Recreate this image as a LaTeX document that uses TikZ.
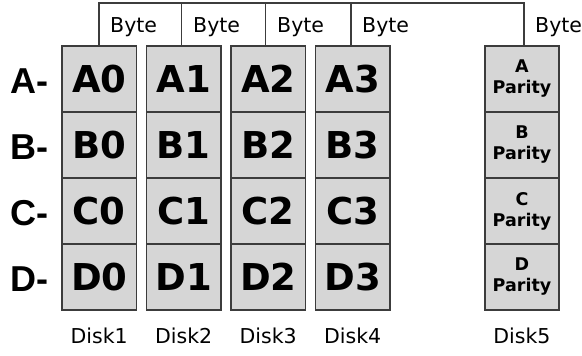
\documentclass[tikz,border=0pt]{standalone}
\usepackage{fontspec}
\setmainfont{DejaVu Sans}
\newfontfamily\rowfont{Liberation Sans}
\definecolor{edgec}{RGB}{60,60,60}
\definecolor{cellc}{RGB}{214,214,214}
\begin{document}
\begin{tikzpicture}[x=1pt,y=1pt,
  cell/.style={draw=edgec, fill=cellc, line width=1.6pt, minimum width=74.5pt, minimum height=66pt, inner sep=0pt, font=\fontsize{37}{40}\selectfont\bfseries},
  pcell/.style={cell, minimum width=74pt, font=\fontsize{17.5}{21}\selectfont\bfseries, align=center},
  lbl/.style={inner sep=0pt, font=\fontsize{20.5}{24}\selectfont},
  rowlbl/.style={inner sep=0pt, anchor=base west, font=\rowfont\fontsize{36}{40}\selectfont\bfseries},
  link/.style={draw=edgec, line width=1.6pt}]
\useasboundingbox (0,0) rectangle (582,356);
\foreach \r [count=\i from 0] in {A,B,C,D}{
  \node[rowlbl] (lab\r) at (10, 262-66*\i) {\r-};
  \foreach \c in {0,...,3}{
    \node[cell] (\r\c) at (99.25+84.5*\c, 277-66*\i) {\r\c};
  }
  \node[pcell] (\r P) at (522, 277-66*\i) {\r\\Parity};
}
\foreach \c/\n in {0/1,1/2,2/3,3/4}
  \node[lbl, anchor=base] (disk\n) at (99.25+84.5*\c, 12) {Disk\n};
\node[lbl, anchor=base] (disk5) at (522,12) {Disk5};
% bracket
\coordinate (top) at (0,353);
\coordinate (v0) at ([xshift=-0.25pt]A0.north);
\coordinate (v1) at ([xshift=-2.25pt]A1.north);
\coordinate (v2) at ([xshift=-2.75pt]A2.north);
\coordinate (v3) at ([xshift=-1.75pt]A3.north);
\coordinate (v4) at ([xshift=2pt]AP.north);
\draw[link] (v0) |- (v4 |- top) -- (v4);
\foreach \k in {1,2,3} \draw[link] (v\k) -- (v\k |- top);
\node[lbl, anchor=base west] (byte0) at (110,323) {Byte};
\node[lbl, anchor=base west] (byte1) at (193,323) {Byte};
\node[lbl, anchor=base west] (byte2) at (277,323) {Byte};
\node[lbl, anchor=base west] (byte3) at (362,323) {Byte};
\node[lbl, anchor=base west] (byte4) at (535,323) {Byte};
\end{tikzpicture}
\end{document}
